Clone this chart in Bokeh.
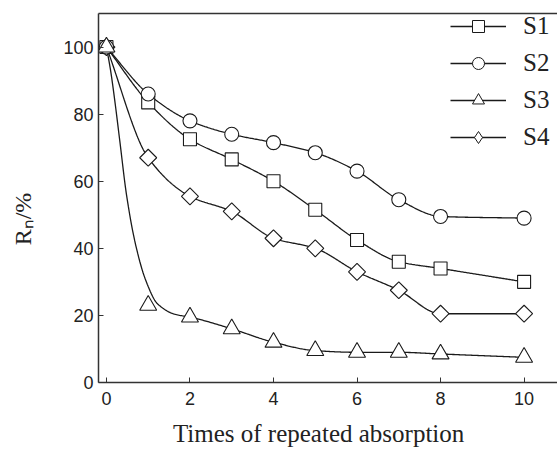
import numpy as np
from bokeh.plotting import figure
from bokeh.models import Range1d, LinearAxis, Legend, LegendItem, FixedTicker, ColumnDataSource
from bokeh.embed import file_html
from bokeh.resources import INLINE

# ---- data ----
x_vals = [0, 1, 2, 3, 4, 5, 6, 7, 8, 10]
s1 = [100, 83.5, 72.5, 66.5, 60, 51.5, 42.5, 36, 34, 30]
s2 = [100, 86, 78, 74, 71.5, 68.5, 63, 54.5, 49.5, 49]
s3 = [100, 23, 19.5, 16, 12, 9.5, 9, 9, 8.5, 7.5]
s4 = [100, 67, 55.5, 51, 43, 40, 33, 27.5, 20.5, 20.5]
# S3 fitted curve (does not pass through x=1 point)
s3_fit_x = [0, 0.1, 0.2, 0.32, 0.48, 0.7, 0.94, 1.22, 1.65, 2, 3, 4, 5, 6, 7, 8, 10]
s3_fit_y = [100, 93, 84, 72, 56, 41, 30.5, 23.5, 20.3, 19.5, 16, 12, 9.5, 9, 9, 8.5, 7.5]
x_ticks = [0, 2, 4, 6, 8, 10]
y_ticks = [0, 20, 40, 60, 80, 100]
names = ["S1", "S2", "S3", "S4"]


def pchip(x, y, n=400):
    x = np.asarray(x, float); y = np.asarray(y, float)
    h = np.diff(x); d = np.diff(y) / h
    m = np.zeros_like(y)
    for k in range(1, len(x) - 1):
        if d[k - 1] * d[k] <= 0:
            m[k] = 0
        else:
            w1 = 2 * h[k] + h[k - 1]; w2 = h[k] + 2 * h[k - 1]
            m[k] = (w1 + w2) / (w1 / d[k - 1] + w2 / d[k])
    m[0] = d[0]; m[-1] = d[-1]
    xs = np.linspace(x[0], x[-1], n)
    idx = np.clip(np.searchsorted(x, xs) - 1, 0, len(x) - 2)
    t = (xs - x[idx]) / h[idx]
    h00 = 2 * t**3 - 3 * t**2 + 1; h10 = t**3 - 2 * t**2 + t
    h01 = -2 * t**3 + 3 * t**2; h11 = t**3 - t**2
    ys = h00 * y[idx] + h10 * h[idx] * m[idx] + h01 * y[idx + 1] + h11 * h[idx] * m[idx + 1]
    return xs, ys


p = figure(width=557, height=452, output_backend="svg", toolbar_location=None,
           x_range=Range1d(-0.19, 10.8), y_range=Range1d(0, 110),
           min_border_left=98, min_border_right=0, min_border_top=13, min_border_bottom=70)
p.outline_line_color = None
p.grid.grid_line_color = None
p.background_fill_color = "white"

for ax in (p.xaxis[0], p.yaxis[0]):
    ax.axis_line_color = "#333333"
    ax.axis_line_width = 1.5
    ax.major_tick_in = 5
    ax.major_tick_out = 0
    ax.major_tick_line_color = "#333333"
    ax.minor_tick_line_color = None
    ax.major_label_text_font = "Liberation Sans"
    ax.major_label_text_font_size = "18px"
    ax.major_label_text_color = "#222222"
    ax.axis_label_text_font = "Liberation Serif"
    ax.axis_label_text_font_style = "normal"
    ax.axis_label_text_color = "#222222"
p.xaxis.ticker = FixedTicker(ticks=x_ticks)
p.yaxis.ticker = FixedTicker(ticks=y_ticks)
p.xaxis.major_label_standoff = 9
p.yaxis.major_label_standoff = 5
p.xaxis.axis_label = "Times of repeated absorption\u00a0\u00a0\u00a0"
p.xaxis.axis_label_text_font_size = "25px"
p.xaxis.axis_label_standoff = 12
p.yaxis.axis_label = "R\u2099/%" + "\u00a0" * 7
p.yaxis.axis_label_text_font_size = "24px"
p.yaxis.axis_label_standoff = 24

top = LinearAxis(ticker=FixedTicker(ticks=[]), axis_line_color="#333333", axis_line_width=1.5,
                 major_tick_line_color=None, minor_tick_line_color=None,
                 major_tick_out=0, major_tick_in=0, major_label_standoff=0)
p.add_layout(top, "above")

lc = "#1a1a1a"
# lines
p.line(*pchip(x_vals, s1), line_color=lc, line_width=1.3)
p.line(*pchip(x_vals, s2), line_color=lc, line_width=1.3)
p.line(*pchip(s3_fit_x, s3_fit_y), line_color=lc, line_width=1.3)
p.line(*pchip(x_vals, s4), line_color=lc, line_width=1.3)

mk = dict(fill_color="white", line_color=lc, line_width=1.1)
p.scatter(x_vals, s4, marker="square", angle=np.pi / 4, size=12, **mk)
p.scatter(x_vals, s1, marker="square", size=13, **mk)
p.scatter(x_vals, s2, marker="circle", size=14, **mk)
p.scatter(x_vals, s3, marker="triangle", size=17, **mk)

# legend with smaller markers (legend-only renderers, no visible data)
items = []
for name, m, sz in zip(names, ["square", "circle", "triangle", "diamond"], [10, 12, 15, 15]):
    src = ColumnDataSource(dict(x=[np.nan], y=[np.nan]))
    r1 = p.line("x", "y", source=src, line_color=lc, line_width=1.3)
    r2 = p.scatter("x", "y", source=src, marker=m, size=sz, fill_color="white",
                   line_color=lc, line_width=1)
    items.append(LegendItem(label=name, renderers=[r1, r2]))
leg = Legend(items=items, location=(352, 230), glyph_width=56, glyph_height=30,
             label_height=30, spacing=7, label_standoff=17, padding=0, margin=0,
             border_line_color=None, background_fill_alpha=0,
             label_text_font="Liberation Serif", label_text_font_size="25px",
             label_text_color="#222222")
p.add_layout(leg)

open("out.html", "w").write(file_html(p, INLINE))
